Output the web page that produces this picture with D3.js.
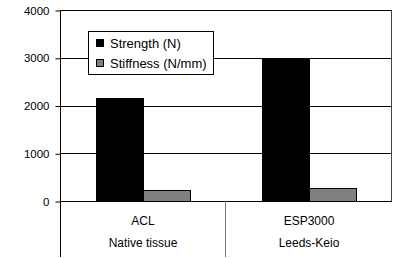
<!DOCTYPE html>
<html>
<head>
<meta charset="utf-8">
<script src="https://cdn.jsdelivr.net/npm/d3@7"></script>
<style>
  body { margin: 0; background: #fff; }
  svg { display: block; font-family: "Liberation Sans", Arial, sans-serif; }
</style>
</head>
<body>
<svg id="chart"></svg>
<script>
// data
const categories = ["ACL", "ESP3000"];
const groups = ["Native tissue", "Leeds-Keio"];
const series = ["Strength (N)", "Stiffness (N/mm)"];
const strength = [2160, 3000];
const stiffness = [230, 270];
const yTicks = [0, 1000, 2000, 3000, 4000];
const colors = ["#000000", "#808080"];

const width = 393, height = 258;
const plotL = 60, plotR = 392, plotT = 10, plotB = 201, baseB = 257;

const svg = d3.select("#chart").attr("width", width).attr("height", height);

const y = d3.scaleLinear().domain([0, 4000]).range([plotB, plotT]);
const x = d3.scaleBand().domain(categories).range([plotL, plotR]);
const xs = d3.scaleBand().domain(series).range([0, x.bandwidth()]).paddingOuter(0.75);

// gridlines
svg.append("g")
  .selectAll("line")
  .data(yTicks.filter(d => d > 0))
  .enter()
  .append("line")
  .attr("x1", plotL).attr("x2", plotR)
  .attr("y1", d => Math.round(y(d)) + 0.5)
  .attr("y2", d => Math.round(y(d)) + 0.5)
  .attr("stroke", "#000");

// right border
svg.append("line")
  .attr("x1", plotR - 0.5).attr("x2", plotR - 0.5)
  .attr("y1", plotT).attr("y2", plotB)
  .attr("stroke", "#444");

// bars
const values = [strength, stiffness];
series.forEach((s, si) => {
  svg.append("g")
    .selectAll("rect")
    .data(categories)
    .enter()
    .append("rect")
    .attr("x", d => Math.round(x(d) + xs(s)) + 0.5)
    .attr("width", Math.round(xs.bandwidth()))
    .attr("y", (d, i) => Math.round(y(values[si][i])) + 0.5)
    .attr("height", (d, i) => Math.round(y(0)) - Math.round(y(values[si][i])))
    .attr("fill", colors[si])
    .attr("stroke", "#000");
});

// y axis
const yAxis = svg.append("g")
  .attr("transform", `translate(${plotL + 0.5},0.5)`)
  .call(d3.axisLeft(y).tickValues(yTicks).tickSize(5).tickPadding(6).tickFormat(d3.format("d")));
yAxis.select(".domain").remove();
yAxis.selectAll("line").attr("stroke", "#000");
yAxis.selectAll("text").attr("font-size", "11.5px").attr("fill", "#000")
  .attr("font-family", "Liberation Sans, Arial, sans-serif");

// left axis line down to bottom
svg.append("line")
  .attr("x1", plotL + 0.5).attr("x2", plotL + 0.5)
  .attr("y1", plotT).attr("y2", baseB)
  .attr("stroke", "#000");

// zero line
svg.append("line")
  .attr("x1", plotL).attr("x2", plotR)
  .attr("y1", Math.round(y(0)) + 0.5).attr("y2", Math.round(y(0)) + 0.5)
  .attr("stroke", "#000");

// top border
svg.append("line")
  .attr("x1", plotL).attr("x2", plotR)
  .attr("y1", plotT + 0.5).attr("y2", plotT + 0.5)
  .attr("stroke", "#000");

// category separator
svg.append("line")
  .attr("x1", x(categories[1]) - 0.5).attr("x2", x(categories[1]) - 0.5)
  .attr("y1", plotB).attr("y2", baseB)
  .attr("stroke", "#777");

// category labels
svg.append("g")
  .selectAll("text")
  .data(categories)
  .enter()
  .append("text")
  .attr("x", d => x(d) + x.bandwidth() / 2)
  .attr("y", 225)
  .attr("text-anchor", "middle")
  .attr("font-size", "12px")
  .text(d => d);

svg.append("g")
  .selectAll("text")
  .data(groups)
  .enter()
  .append("text")
  .attr("x", (d, i) => x(categories[i]) + x.bandwidth() / 2)
  .attr("y", 247)
  .attr("text-anchor", "middle")
  .attr("font-size", "12px")
  .text(d => d);

// legend
const legend = svg.append("g").attr("transform", "translate(88.5,31.5)");
legend.append("rect")
  .attr("width", 125).attr("height", 43)
  .attr("fill", "#fff").attr("stroke", "#000");
series.forEach((s, i) => {
  legend.append("rect")
    .attr("x", 8).attr("y", 8 + i * 20)
    .attr("width", 7).attr("height", 7)
    .attr("fill", colors[i]).attr("stroke", "#000");
  legend.append("text")
    .attr("x", 21.5).attr("y", 16.5 + i * 19.5)
    .attr("font-size", "13px")
    .text(s);
});
</script>
</body>
</html>
